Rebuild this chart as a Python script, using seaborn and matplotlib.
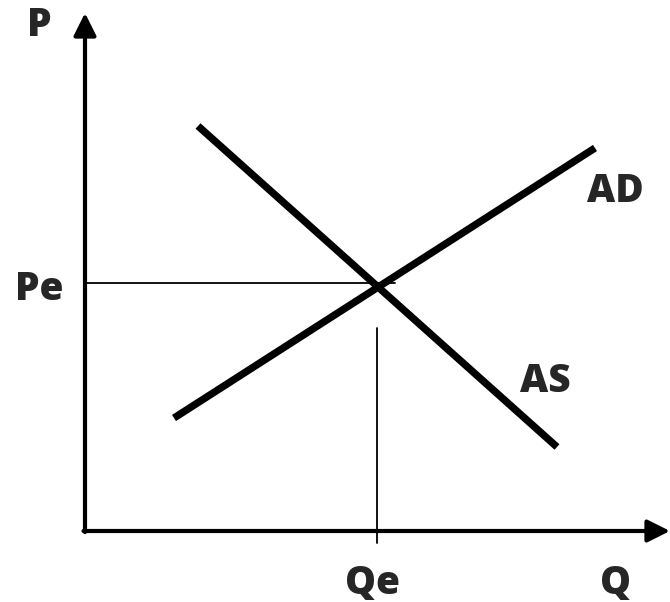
import numpy as np
import pandas as pd
import matplotlib
matplotlib.use('Agg')
import matplotlib.pyplot as plt
import seaborn as sns

# curve end points (Q, P)
as_q = [2.26, 9.44]
as_p = [8.10, 1.68]
ad_q = [1.78, 10.20]
ad_p = [2.26, 7.66]

# equilibrium
pe = 4.96
qe = 5.84
pe_line_end = 6.2
qe_line_top = 4.06
qe_line_bottom = -0.24

# axis extents
q_max = 11.7
p_max = 10.36

sns.set_style('white')
plt.rcParams['font.family'] = ['Open Sans', 'DejaVu Sans']

fig = plt.figure(figsize=(6.7, 6.02), dpi=100)
ax = fig.add_axes([0, 0, 1, 1])

curves = pd.DataFrame({
    'Q': as_q + ad_q,
    'P': as_p + ad_p,
    'curve': ['AS', 'AS', 'AD', 'AD'],
})
sns.lineplot(data=curves, x='Q', y='P', units='curve', estimator=None,
             color='black', linewidth=5.3, sort=False, ax=ax,
             solid_capstyle='butt')

# equilibrium guide lines
ax.plot([0, pe_line_end], [pe, pe], color='black', linewidth=1.3)
ax.plot([qe, qe], [qe_line_bottom, qe_line_top], color='black', linewidth=1.3)

# axes with arrows
arrow = dict(arrowstyle='-|>', lw=3, color='black', mutation_scale=34,
             shrinkA=0, shrinkB=0)
ax.annotate('', xy=(0, p_max), xytext=(0, -0.02), arrowprops=arrow)
ax.annotate('', xy=(q_max, 0), xytext=(-0.03, 0), arrowprops=arrow)

txt = dict(fontsize=28, fontweight='heavy', ha='center', va='center')
ax.text(-0.92, 10.1, 'P', **txt)
ax.text(-0.92, pe - 0.14, 'Pe', **txt)
ax.text(qe - 0.1, -1.06, 'Qe', **txt)
ax.text(10.62, -1.06, 'Q', **txt)
ax.text(10.6, 6.8, 'AD', **txt)
ax.text(9.2, 3.0, 'AS', **txt)

ax.set_xlim(-1.7, 11.7)
ax.set_ylim(-1.42, 10.62)
ax.axis('off')

fig.savefig('out.png', dpi=100, facecolor='white')
